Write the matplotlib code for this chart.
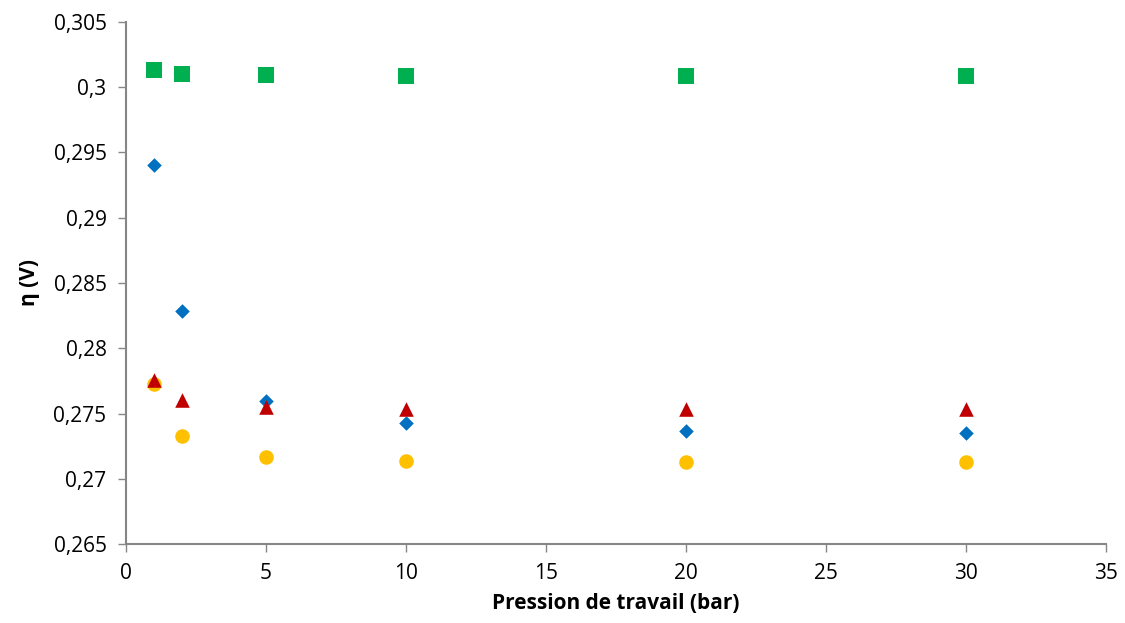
import matplotlib
matplotlib.use('Agg')
import matplotlib.pyplot as plt
from matplotlib.ticker import FuncFormatter

# data
pression = [1, 2, 5, 10, 20, 30]
eta_carre = [0.30132, 0.30101, 0.30094, 0.30086, 0.30086, 0.30086]
eta_losange = [0.29404, 0.28285, 0.27596, 0.27427, 0.27366, 0.27351]
eta_cercle = [0.27726, 0.27328, 0.27168, 0.27136, 0.27128, 0.27128]
eta_triangle = [0.27757, 0.27603, 0.27549, 0.27534, 0.27534, 0.27534]

plt.rcParams['font.family'] = ['Open Sans', 'DejaVu Sans']

fig = plt.figure(figsize=(11.25, 6.23), dpi=100)
ax = fig.add_axes([0.112, 0.1268, 0.871, 0.8379])

ax.scatter(pression, eta_losange, marker='D', s=55, color='#0070C0', zorder=3, linewidths=0)
ax.scatter(pression, eta_cercle, marker='o', s=110, color='#FFC000', zorder=4, linewidths=0)
ax.scatter(pression, eta_triangle, marker='^', s=110, color='#C00000', zorder=5, linewidths=0)
ax.scatter(pression, eta_carre, marker='s', s=120, color='#00B050', zorder=6, linewidths=0)

ax.set_xlim(0, 35)
ax.set_ylim(0.265, 0.305)
ax.set_xticks(range(0, 36, 5))
ax.set_yticks([0.265 + 0.005 * i for i in range(9)])

def virgule(v, pos):
    s = f'{v:.3f}'.rstrip('0').rstrip('.')
    return s.replace('.', ',')

ax.yaxis.set_major_formatter(FuncFormatter(virgule))

for side in ['top', 'right']:
    ax.spines[side].set_visible(False)
for side in ['left', 'bottom']:
    ax.spines[side].set_color('#868686')
    ax.spines[side].set_linewidth(1.5)
ax.tick_params(direction='out', length=6, width=1, color='#868686',
               labelsize=15, labelcolor='black', pad=8)

ax.set_xlabel('Pression de travail (bar)', fontsize=15, fontweight='bold', labelpad=6)
ax.set_ylabel('η (V)', fontsize=15, fontweight='bold', labelpad=10)

fig.savefig('out.png', dpi=100)
